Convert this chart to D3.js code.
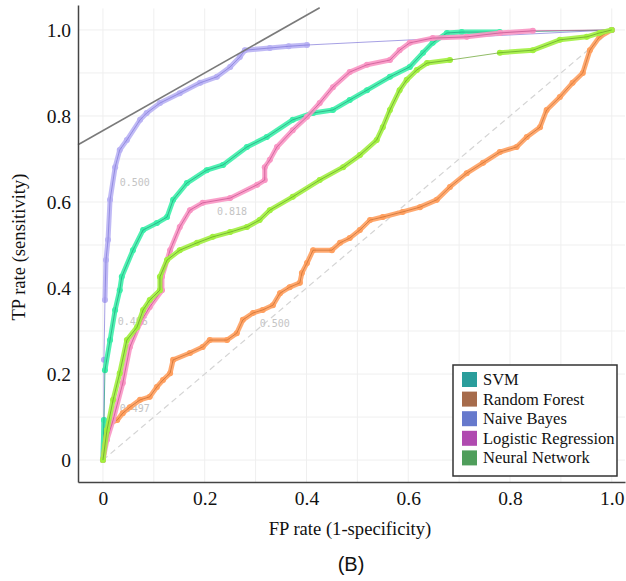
<!DOCTYPE html>
<html>
<head>
<meta charset="utf-8">
<script src="https://cdn.jsdelivr.net/npm/d3@7"></script>
<style>
  body { margin: 0; background: #fff; }
  svg { display: block; }
  .serif { font-family: "Liberation Serif", "DejaVu Serif", serif; }
  .sans { font-family: "Liberation Sans", Arial, sans-serif; }
  .mono { font-family: "DejaVu Sans Mono", "Liberation Mono", monospace; }
</style>
</head>
<body>
<div id="chart"></div>
<script>
// ROC curves (fpr, tpr)
var nbFpr = [0, 0.002, 0.002, 0.004, 0.006, 0.010, 0.014, 0.024, 0.033, 0.047, 0.073, 0.086, 0.112, 0.151, 0.191, 0.224, 0.250, 0.269, 0.279, 0.328, 0.365, 0.401, 1];
var nbTpr = [0, 0.093, 0.233, 0.372, 0.465, 0.512, 0.605, 0.681, 0.721, 0.744, 0.791, 0.807, 0.830, 0.853, 0.877, 0.891, 0.914, 0.937, 0.953, 0.958, 0.962, 0.965, 1];

var svmFpr = [0, 0.002, 0.004, 0.014, 0.024, 0.033, 0.037, 0.059, 0.079, 0.106, 0.126, 0.138, 0.165, 0.204, 0.236, 0.283, 0.322, 0.373, 0.413, 0.452, 0.485, 0.519, 0.564, 0.603, 0.629, 0.648, 0.676, 0.705, 0.780, 1];
var svmTpr = [0, 0.093, 0.209, 0.279, 0.349, 0.395, 0.426, 0.488, 0.535, 0.551, 0.565, 0.605, 0.644, 0.674, 0.686, 0.728, 0.751, 0.791, 0.807, 0.814, 0.837, 0.860, 0.891, 0.914, 0.947, 0.970, 0.993, 0.995, 0.995, 1];

var rfFpr = [0, 0.008, 0.014, 0.028, 0.039, 0.053, 0.073, 0.092, 0.106, 0.118, 0.132, 0.138, 0.171, 0.196, 0.210, 0.244, 0.263, 0.275, 0.295, 0.314, 0.334, 0.348, 0.367, 0.387, 0.391, 0.401, 0.413, 0.450, 0.466, 0.485, 0.505, 0.525, 0.550, 0.589, 0.623, 0.656, 0.682, 0.715, 0.747, 0.780, 0.813, 0.833, 0.859, 0.872, 0.898, 0.923, 0.943, 0.957, 0.976, 1];
var rfTpr = [0, 0.070, 0.086, 0.093, 0.109, 0.123, 0.140, 0.147, 0.170, 0.186, 0.202, 0.233, 0.249, 0.263, 0.279, 0.279, 0.295, 0.326, 0.342, 0.349, 0.360, 0.388, 0.402, 0.412, 0.435, 0.458, 0.488, 0.488, 0.505, 0.516, 0.535, 0.558, 0.565, 0.577, 0.588, 0.605, 0.635, 0.667, 0.691, 0.716, 0.728, 0.751, 0.774, 0.814, 0.844, 0.877, 0.900, 0.953, 0.984, 1];

var lrFpr = [0, 0.008, 0.020, 0.039, 0.053, 0.073, 0.092, 0.116, 0.116, 0.132, 0.151, 0.171, 0.196, 0.250, 0.303, 0.318, 0.318, 0.328, 0.342, 0.373, 0.401, 0.426, 0.452, 0.485, 0.519, 0.564, 0.583, 0.603, 0.648, 0.715, 0.780, 0.845, 1];
var lrTpr = [0, 0.047, 0.093, 0.179, 0.263, 0.319, 0.356, 0.395, 0.426, 0.488, 0.542, 0.581, 0.598, 0.609, 0.640, 0.651, 0.681, 0.698, 0.728, 0.767, 0.798, 0.830, 0.867, 0.902, 0.919, 0.930, 0.953, 0.970, 0.981, 0.984, 0.993, 0.998, 1];

var nnFpr = [0, 0.008, 0.020, 0.033, 0.047, 0.067, 0.079, 0.092, 0.112, 0.112, 0.126, 0.151, 0.185, 0.216, 0.250, 0.283, 0.308, 0.328, 0.373, 0.426, 0.472, 0.505, 0.538, 0.550, 0.564, 0.583, 0.597, 0.617, 0.637, 0.682, 0.780, 0.845, 0.898, 0.951, 0.976, 1];
var nnTpr = [0, 0.070, 0.140, 0.202, 0.279, 0.309, 0.349, 0.372, 0.395, 0.426, 0.465, 0.488, 0.505, 0.519, 0.530, 0.542, 0.558, 0.581, 0.612, 0.651, 0.681, 0.709, 0.744, 0.774, 0.814, 0.860, 0.884, 0.907, 0.923, 0.930, 0.947, 0.953, 0.977, 0.984, 0.993, 1];

var seriesNames = ["SVM", "Random Forest", "Naive Bayes", "Logistic Regression", "Neural Network"];
var legendColors = ["#2a9d9b", "#a66b4b", "#6679cc", "#b04ab0", "#4f9e5b"];

// threshold annotations
var thrText = ["0.500", "0.818", "0.496", "0.497", "0.500"];
var thrFpr = [0.033, 0.224, 0.029, 0.033, 0.308];
var thrTpr = [0.637, 0.570, 0.314, 0.112, 0.309];

// iso-performance line touching naive bayes
var isoPoint = [0.279, 0.953];
var isoSlope = 0.67;
var isoRange = [-0.049, 0.426];

var xTicks = [0, 0.2, 0.4, 0.6, 0.8, 1.0];
var yTicks = [0, 0.2, 0.4, 0.6, 0.8, 1.0];

var W = 626, H = 581;

var svg = d3.select("#chart").append("svg")
    .attr("width", W)
    .attr("height", H);

var x = d3.scaleLinear().domain([-0.049, 1.026]).range([78, 625]);
var y = d3.scaleLinear().domain([-0.051, 1.058]).range([482, 5]);

// grid
var grid = d3.range(0, 1.0001, 0.1);
svg.append("g").selectAll("line").data(grid).enter().append("line")
    .attr("x1", function(d) { return x(d); })
    .attr("x2", function(d) { return x(d); })
    .attr("y1", y(1.05)).attr("y2", y(-0.051))
    .attr("stroke", "#efefef").attr("stroke-width", 1);
svg.append("g").selectAll("line").data(grid).enter().append("line")
    .attr("y1", function(d) { return y(d); })
    .attr("y2", function(d) { return y(d); })
    .attr("x1", x(-0.049)).attr("x2", x(1.026))
    .attr("stroke", "#efefef").attr("stroke-width", 1);

// chance diagonal
svg.append("line")
    .attr("x1", x(0)).attr("y1", y(0))
    .attr("x2", x(1)).attr("y2", y(1))
    .attr("stroke", "#d4d4d4").attr("stroke-width", 1.2)
    .attr("stroke-dasharray", "6,4");

// threshold labels (under curves)
svg.append("g").selectAll("text").data(thrText).enter().append("text")
    .attr("class", "mono")
    .attr("x", function(d, i) { return x(thrFpr[i]); })
    .attr("y", function(d, i) { return y(thrTpr[i]); })
    .attr("font-size", 10)
    .attr("fill", "#c4c4c4")
    .text(function(d) { return d; });

// curves, drawn in this order
var curves = [
    {fpr: nbFpr, tpr: nbTpr, light: "#b9b2f4", dark: "#8078d8"},
    {fpr: svmFpr, tpr: svmTpr, light: "#3cefaa", dark: "#22a07c"},
    {fpr: rfFpr, tpr: rfTpr, light: "#ffa060", dark: "#c46c30"},
    {fpr: lrFpr, tpr: lrTpr, light: "#f996c4", dark: "#c4508e"},
    {fpr: nnFpr, tpr: nnTpr, light: "#a2f040", dark: "#62a026"}
];

var line = d3.line()
    .x(function(d) { return x(d[0]); })
    .y(function(d) { return y(d[1]); });

curves.forEach(function(c) {
    var pts = c.fpr.map(function(f, i) { return [f, c.tpr[i]]; });
    var g = svg.append("g");

    // dense markers look like a thick band; long gaps only have the thin line
    var segs = [];
    for (var i = 1; i < pts.length; i++) {
        var dx = x(pts[i][0]) - x(pts[i-1][0]);
        var dy = y(pts[i][1]) - y(pts[i-1][1]);
        if (Math.sqrt(dx*dx + dy*dy) < 45) segs.push([pts[i-1], pts[i]]);
    }
    g.selectAll("path.band").data(segs).enter().append("path")
        .attr("class", "band")
        .attr("d", line)
        .attr("fill", "none")
        .attr("stroke", c.light)
        .attr("stroke-width", 5)
        .attr("stroke-linecap", "round")
        .attr("stroke-linejoin", "round")
        .attr("opacity", 0.9);

    g.selectAll("circle").data(pts).enter().append("circle")
        .attr("cx", function(d) { return x(d[0]); })
        .attr("cy", function(d) { return y(d[1]); })
        .attr("r", 3)
        .attr("fill", c.light);

    g.append("path")
        .datum(pts)
        .attr("d", line)
        .attr("fill", "none")
        .attr("stroke", c.dark)
        .attr("stroke-width", 1)
        .attr("opacity", 0.7);
});

// iso-performance line
svg.append("line")
    .attr("x1", x(isoRange[0]))
    .attr("y1", y(isoPoint[1] + isoSlope * (isoRange[0] - isoPoint[0])))
    .attr("x2", x(isoRange[1]))
    .attr("y2", y(isoPoint[1] + isoSlope * (isoRange[1] - isoPoint[0])))
    .attr("stroke", "#7a7a7a").attr("stroke-width", 1.6);

// axes
var fmt = function(d) { return d === 0 ? "0" : d.toFixed(1); };

var xAxis = svg.append("g")
    .attr("transform", "translate(0," + y(-0.051) + ")")
    .call(d3.axisBottom(x).tickValues(xTicks).tickFormat(fmt).tickSize(0).tickSizeOuter(0).tickPadding(9));
var yAxis = svg.append("g")
    .attr("transform", "translate(" + x(-0.049) + ",0)")
    .call(d3.axisLeft(y).tickValues(yTicks).tickFormat(fmt).tickSize(0).tickSizeOuter(0).tickPadding(7));

[xAxis, yAxis].forEach(function(a) {
    a.attr("font-family", null).attr("font-size", null);
    a.select(".domain").attr("stroke", "#444").attr("stroke-width", 1.5);
    a.selectAll("text")
        .attr("class", "serif")
        .style("font-size", "19.5px")
        .attr("fill", "#111");
});

svg.append("text")
    .attr("class", "serif")
    .attr("x", 350).attr("y", 535)
    .attr("text-anchor", "middle")
    .style("font-size", "18.6px")
    .attr("fill", "#111")
    .text("FP rate (1-specificity)");

svg.append("text")
    .attr("class", "serif")
    .attr("transform", "translate(25,247) rotate(-90)")
    .attr("text-anchor", "middle")
    .style("font-size", "18.6px")
    .attr("fill", "#111")
    .text("TP rate (sensitivity)");

svg.append("text")
    .attr("class", "sans")
    .attr("x", 351).attr("y", 571)
    .attr("text-anchor", "middle")
    .style("font-size", "20px")
    .attr("fill", "#111")
    .text("(B)");

// legend
var legend = svg.append("g").attr("transform", "translate(453,365)");
legend.append("rect")
    .attr("width", 164).attr("height", 111)
    .attr("fill", "#fff")
    .attr("stroke", "#333").attr("stroke-width", 1.5);

var item = legend.selectAll("g.item").data(seriesNames).enter().append("g")
    .attr("class", "item")
    .attr("transform", function(d, i) { return "translate(9," + (7 + i * 19.6) + ")"; });
item.append("rect")
    .attr("width", 15).attr("height", 15)
    .attr("fill", function(d, i) { return legendColors[i]; });
item.append("text")
    .attr("class", "serif")
    .attr("x", 21).attr("y", 13)
    .style("font-size", "16.5px")
    .attr("fill", "#111")
    .text(function(d) { return d; });
</script>
</body>
</html>
